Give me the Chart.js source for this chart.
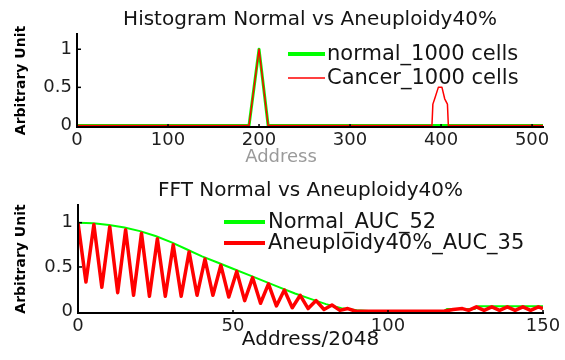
<!DOCTYPE html>
<html><head><meta charset="utf-8">
<script src="https://cdn.jsdelivr.net/npm/chart.js@4.4.0/dist/chart.umd.min.js"></script>
<style>
html,body{margin:0;padding:0;background:#fff;width:565px;height:360px;overflow:hidden}
canvas{position:absolute;left:0}
#c1{top:0}
#c2{top:172px}
</style></head>
<body>
<canvas id="c1" width="565" height="172"></canvas>
<canvas id="c2" width="565" height="188"></canvas>
<script>
// ---------- data ----------
const histTitle = 'Histogram Normal vs Aneuploidy40%';
const histXLabel = 'Address';
const histLabels = ['normal_1000 cells', 'Cancer_1000 cells'];
const histXTicks = [0, 100, 200, 300, 400, 500];
const histYTicks = [0, 0.5, 1];
const histNormalX = [0, 189, 200, 210, 512];
const histNormalY = [0, 0, 1, 0, 0];
const histCancerX = [0, 189, 200, 210, 390, 391, 393, 397, 401, 404, 407, 408, 512];
const histCancerY = [0, 0, 1, 0, 0, 0.28, 0.35, 0.5, 0.5, 0.35, 0.28, 0, 0];

const fftTitle = 'FFT Normal vs Aneuploidy40%';
const fftXLabel = 'Address/2048';
const fftLabels = ['Normal_AUC_52', 'Aneuploidy40%_AUC_35'];
const fftXTicks = [0, 50, 100, 150];
const fftYTicks = [0, 0.5, 1];
const fftNormalX = [0, 5, 10, 15, 20, 25, 30, 35, 40, 45, 50, 55, 60, 65, 70, 75, 80, 85, 90, 95, 118, 119, 128, 129, 150];
const fftNormalY = [1, 0.995, 0.975, 0.945, 0.905, 0.85, 0.78, 0.7, 0.62, 0.55, 0.48, 0.41, 0.34, 0.27, 0.2, 0.14, 0.08, 0.035, 0.01, 0, 0, 0.025, 0.025, 0.055, 0.055];
const fftAneuX = [0, 2.56, 5.12, 7.68, 10.24, 12.8, 15.36, 17.92, 20.48, 23.04, 25.6, 28.16, 30.72, 33.28, 35.84, 38.4, 40.96, 43.52, 46.08, 48.64, 51.2, 53.76, 56.32, 58.88, 61.44, 64, 66.56, 69.12, 71.68, 74.24, 76.8, 79.36, 81.92, 84.48, 87.04, 89.6, 118, 121, 124, 126, 128.5, 131, 133.5, 136, 138.5, 141, 143.5, 146, 148.5, 150];
const fftAneuY = [1, 0.33, 0.98, 0.27, 0.955, 0.21, 0.92, 0.18, 0.88, 0.17, 0.82, 0.17, 0.75, 0.17, 0.67, 0.18, 0.59, 0.18, 0.52, 0.16, 0.45, 0.12, 0.38, 0.09, 0.31, 0.06, 0.24, 0.04, 0.18, 0.03, 0.12, 0.02, 0.07, 0.01, 0.03, 0, 0, 0.02, 0.03, 0.01, 0.05, 0.01, 0.05, 0.01, 0.05, 0.01, 0.05, 0.01, 0.05, 0.03];

const GREEN = '#00ff00', RED = '#ff0000';
const FONT = 'DejaVu Sans';
Chart.defaults.font.family = FONT;

const pts = (xs, ys) => xs.map((x, i) => ({x, y: ys[i]}));

// ---------- plugins ----------
const customLegend = {
  id: 'customLegend',
  afterDraw(chart, args, o) {
    const ctx = chart.ctx;
    ctx.save();
    o.rows.forEach((r, i) => {
      const ds = chart.data.datasets[i];
      ctx.strokeStyle = ds.borderColor;
      ctx.lineWidth = r.w;
      ctx.beginPath(); ctx.moveTo(o.x0, r.y); ctx.lineTo(o.x1, r.y); ctx.stroke();
      ctx.fillStyle = '#141414';
      ctx.font = o.font;
      ctx.textBaseline = 'middle';
      ctx.textAlign = 'left';
      ctx.fillText(ds.label, o.tx, r.y + 1);
    });
    ctx.restore();
  }
};
const innerTicks = {
  id: 'innerTicks',
  afterDraw(chart) {
    const ctx = chart.ctx, a = chart.chartArea;
    const xs = chart.scales.x, ys = chart.scales.y;
    ctx.save();
    ctx.strokeStyle = '#000'; ctx.lineWidth = 1.5;
    xs.ticks.forEach(t => {
      if (t.value === 0) return;
      const px = xs.getPixelForValue(t.value);
      ctx.beginPath(); ctx.moveTo(px, a.bottom); ctx.lineTo(px, a.bottom - 3); ctx.stroke();
    });
    ys.ticks.forEach(t => {
      if (t.value === 0) return;
      const py = ys.getPixelForValue(t.value);
      ctx.beginPath(); ctx.moveTo(a.left, py); ctx.lineTo(a.left + 4, py); ctx.stroke();
    });
    ctx.restore();
  }
};
const offsetXTitle = {
  id: 'offsetXTitle',
  afterDraw(chart, args, o) {
    if (!o.text) return;
    const ctx = chart.ctx;
    ctx.save();
    ctx.fillStyle = o.color; ctx.font = o.font;
    ctx.textAlign = 'center'; ctx.textBaseline = 'middle';
    ctx.fillText(o.text, o.x, o.y);
    ctx.restore();
  }
};

function makeOptions(cfg) {
  return {
    responsive: false,
    animation: false,
    devicePixelRatio: 1,
    layout: {padding: {left: 0, right: cfg.padRight, top: 0, bottom: 0}},
    elements: {line: {tension: 0, borderJoinStyle: 'round'}, point: {radius: 0}},
    plugins: {
      legend: {display: false},
      tooltip: {enabled: false},
      title: {display: true, text: cfg.title, fullSize: false, color: '#141414',
              font: {size: 20, family: FONT, weight: 'normal'}, padding: {top: cfg.titleTop, bottom: 2}},
      customLegend: cfg.legend,
      offsetXTitle: cfg.xTitleOffset || {}
    },
    scales: {
      x: {
        type: 'linear', min: 0, max: cfg.xMax,
        afterBuildTicks: s => { s.ticks = cfg.xTicks.map(v => ({value: v})); },
        afterFit: s => { s.height = cfg.xHeight; },
        grid: {display: false, drawTicks: false},
        border: {display: true, color: '#000', width: 2, z: 1},
        ticks: {font: {size: 18, family: FONT}, color: '#1e1e1e', padding: 3, maxRotation: 0, autoSkip: false,
                callback: v => String(v)},
        title: cfg.xTitle
      },
      y: {
        type: 'linear', min: -0.02, max: 1.2,
        afterBuildTicks: s => { s.ticks = cfg.yTicks.map(v => ({value: v})); },
        afterFit: s => { s.width = cfg.yWidth; },
        grid: {display: false, drawTicks: false},
        border: {display: true, color: '#000', width: 2, z: 1},
        ticks: {font: {size: 18, family: FONT}, color: '#1e1e1e', padding: 5, autoSkip: false,
                callback: v => String(v)},
        title: {display: true, text: 'Arbitrary Unit', color: '#000',
                font: {size: 14, weight: 'bold', family: FONT}, padding: {top: 13, bottom: 0}}
      }
    }
  };
}

new Chart(document.getElementById('c1'), {
  type: 'line',
  data: {datasets: [
    {label: histLabels[0], data: pts(histNormalX, histNormalY), borderColor: GREEN, borderWidth: 3, order: 1, fill: false},
    {label: histLabels[1], data: pts(histCancerX, histCancerY), borderColor: RED, borderWidth: 1.5, order: 0, fill: false}
  ]},
  options: makeOptions({
    title: histTitle, titleTop: 8, padRight: 22, xMax: 512,
    xTicks: histXTicks, yTicks: histYTicks, xHeight: 45, yWidth: 77,
    xTitle: {display: false},
    xTitleOffset: {text: histXLabel, x: 281, y: 157, color: '#9a9a9a', font: '18px ' + FONT},
    legend: {x0: 288, x1: 325, tx: 327, font: '21px ' + FONT, rows: [{y: 54, w: 4}, {y: 78, w: 1.5}]}
  }),
  plugins: [customLegend, innerTicks, offsetXTitle]
});

new Chart(document.getElementById('c2'), {
  type: 'line',
  data: {datasets: [
    {label: fftLabels[0], data: pts(fftNormalX, fftNormalY), borderColor: GREEN, borderWidth: 2, order: 1, fill: false},
    {label: fftLabels[1], data: pts(fftAneuX, fftAneuY), borderColor: RED, borderWidth: 3.5, order: 0, fill: false}
  ]},
  options: makeOptions({
    title: fftTitle, titleTop: 7, padRight: 22, xMax: 150,
    xTicks: fftXTicks, yTicks: fftYTicks, xHeight: 47, yWidth: 78,
    xTitle: {display: true, text: fftXLabel, color: '#141414', font: {size: 20, family: FONT}, padding: {top: 0, bottom: 8}},
    legend: {x0: 224, x1: 265, tx: 268, font: '21px ' + FONT, rows: [{y: 50, w: 4}, {y: 71, w: 4}]}
  }),
  plugins: [customLegend, innerTicks, offsetXTitle]
});
</script>
</body></html>
